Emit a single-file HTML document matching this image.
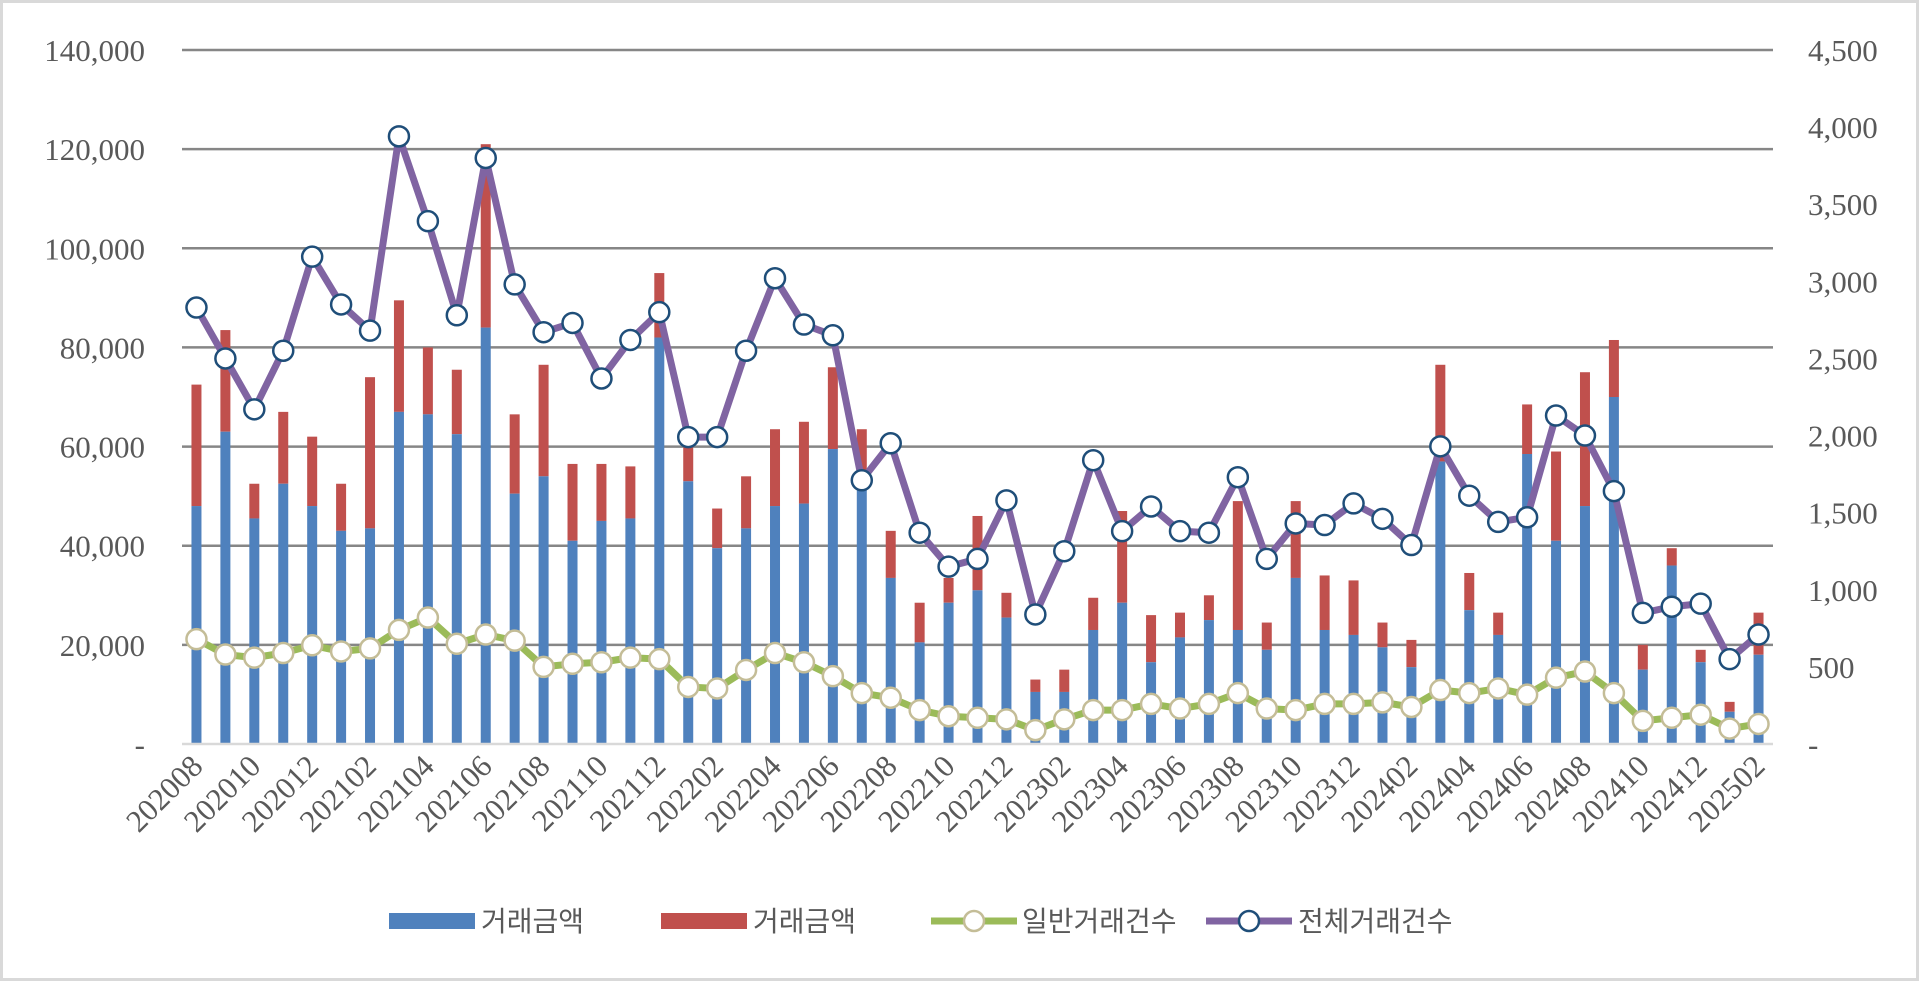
<!DOCTYPE html>
<html><head><meta charset="utf-8"><style>
html,body{margin:0;padding:0;background:#fff;}
svg{display:block;}
text{font-family:"Liberation Serif","Noto Serif CJK SC",serif;fill:#595959;}
.lg{font-family:"Liberation Sans","Noto Sans CJK KR",sans-serif;}
</style></head><body>
<svg id="s" width="1920" height="982" xmlns="http://www.w3.org/2000/svg"></svg>
<script>
const tot=[72.5,83.5,52.5,67,62,52.5,74,89.5,80,75.5,121,66.5,76.5,56.5,56.5,56,95,62,47.5,54,63.5,65,76,63.5,43,28.5,33.5,46,30.5,13,15,29.5,47,26,26.5,30,49,24.5,49,34,33,24.5,21,76.5,34.5,26.5,68.5,59,75,81.5,20,39.5,19,8.5,26.5];
const blu=[48,63,45.5,52.5,48,43,43.5,67,66.5,62.5,84,50.5,54,41,45,45.5,82,53,39.5,43.5,48,48.5,59.5,52,33.5,20.5,28.5,31,25.5,10.5,10.5,23,28.5,16.5,21.5,25,23,19,33.5,23,22,19.5,15.5,57,27,22,58.5,41,48,70,15,36,16.5,6.5,18];
const pur=[2830,2500,2170,2550,3160,2850,2680,3940,3390,2780,3800,2980,2670,2730,2370,2620,2800,1990,1990,2550,3020,2720,2650,1710,1950,1370,1150,1200,1580,840,1250,1840,1380,1540,1380,1370,1730,1200,1430,1420,1560,1460,1290,1930,1610,1440,1470,2130,2000,1640,850,890,910,550,710];
const grn=[680,580,560,590,640,600,620,740,820,650,710,670,500,520,530,560,550,370,360,480,590,530,440,330,300,220,180,170,160,90,160,220,220,260,230,260,330,230,220,260,260,270,240,350,330,360,320,430,470,330,150,170,190,100,130];
const L=182,R=1773,T=50,B=744,H=B-T,n=55,cw=(R-L)/n;
const yl=v=>B-v/140*H, yr=v=>B-v/4500*H, cx=i=>L+cw*(i+0.5);
let h='<rect x="1.5" y="1.5" width="1916" height="978" fill="#fff" stroke="#d9d9d9" stroke-width="3"/>';
for(let k=1;k<=7;k++){const y=yl(k*20);h+=`<line x1="${L}" x2="${R}" y1="${y}" y2="${y}" stroke="#868686" stroke-width="2.5"/>`;
h+=`<text x="145" y="${y+11}" font-size="31" text-anchor="end">${(k*20)},000</text>`;}
for(let k=1;k<=9;k++){const y=yr(k*500);h+=`<text x="1808" y="${y+11}" font-size="31">${(k*500).toLocaleString('en-US')}</text>`;}
h+=`<text x="145" y="${B+11}" font-size="31" text-anchor="end">-</text><text x="1808" y="${B+11}" font-size="31">-</text>`;
for(let i=0;i<n;i++){const x=cx(i)-5;h+=`<rect x="${x}" y="${yl(tot[i])}" width="10" height="${yl(blu[i])-yl(tot[i])}" fill="#c0504d"/><rect x="${x}" y="${yl(blu[i])}" width="10" height="${B-yl(blu[i])}" fill="#4f81bd"/>`;}
h+=`<line x1="${L}" x2="${R}" y1="${B}" y2="${B}" stroke="#d9d9d9" stroke-width="2.5"/>`;
const ym=['202008','202010','202012','202102','202104','202106','202108','202110','202112','202202','202204','202206','202208','202210','202212','202302','202304','202306','202308','202310','202312','202402','202404','202406','202408','202410','202412','202502'];
ym.forEach((t,j)=>{const x=cx(j*2)+8,y=768;h+=`<text x="${x}" y="${y}" font-size="31" text-anchor="end" transform="rotate(-45 ${x} ${y})">${t}</text>`;});
const line=(a,c,mc)=>{let p=a.map((v,i)=>`${cx(i)},${yr(v)}`).join(' ');let s=`<polyline points="${p}" fill="none" stroke="${c}" stroke-width="7" stroke-linejoin="round"/>`;a.forEach((v,i)=>{s+=`<circle cx="${cx(i)}" cy="${yr(v)}" r="10" fill="#fff" stroke="${mc}" stroke-width="2.5"/>`});return s;};
h+=line(grn,'#9bbb59','#c4bd97');h+=line(pur,'#8064a2','#1f4e79');
const ly=921;
h+=`<rect x="389" y="${ly-8}" width="86" height="16" fill="#4f81bd"/><text class="lg" x="481" y="${ly+10}" font-size="28">거래금액</text>`;
h+=`<rect x="661" y="${ly-8}" width="86" height="16" fill="#c0504d"/><text class="lg" x="753" y="${ly+10}" font-size="28">거래금액</text>`;
h+=`<line x1="931" x2="1017" y1="${ly}" y2="${ly}" stroke="#9bbb59" stroke-width="7"/><circle cx="974" cy="${ly}" r="10" fill="#fff" stroke="#c4bd97" stroke-width="2.5"/><text class="lg" x="1022" y="${ly+10}" font-size="28">일반거래건수</text>`;
h+=`<line x1="1206" x2="1292" y1="${ly}" y2="${ly}" stroke="#8064a2" stroke-width="7"/><circle cx="1249" cy="${ly}" r="10" fill="#fff" stroke="#1f4e79" stroke-width="2.5"/><text class="lg" x="1298" y="${ly+10}" font-size="28">전체거래건수</text>`;
document.getElementById('s').innerHTML=h;
</script>
</body></html>
